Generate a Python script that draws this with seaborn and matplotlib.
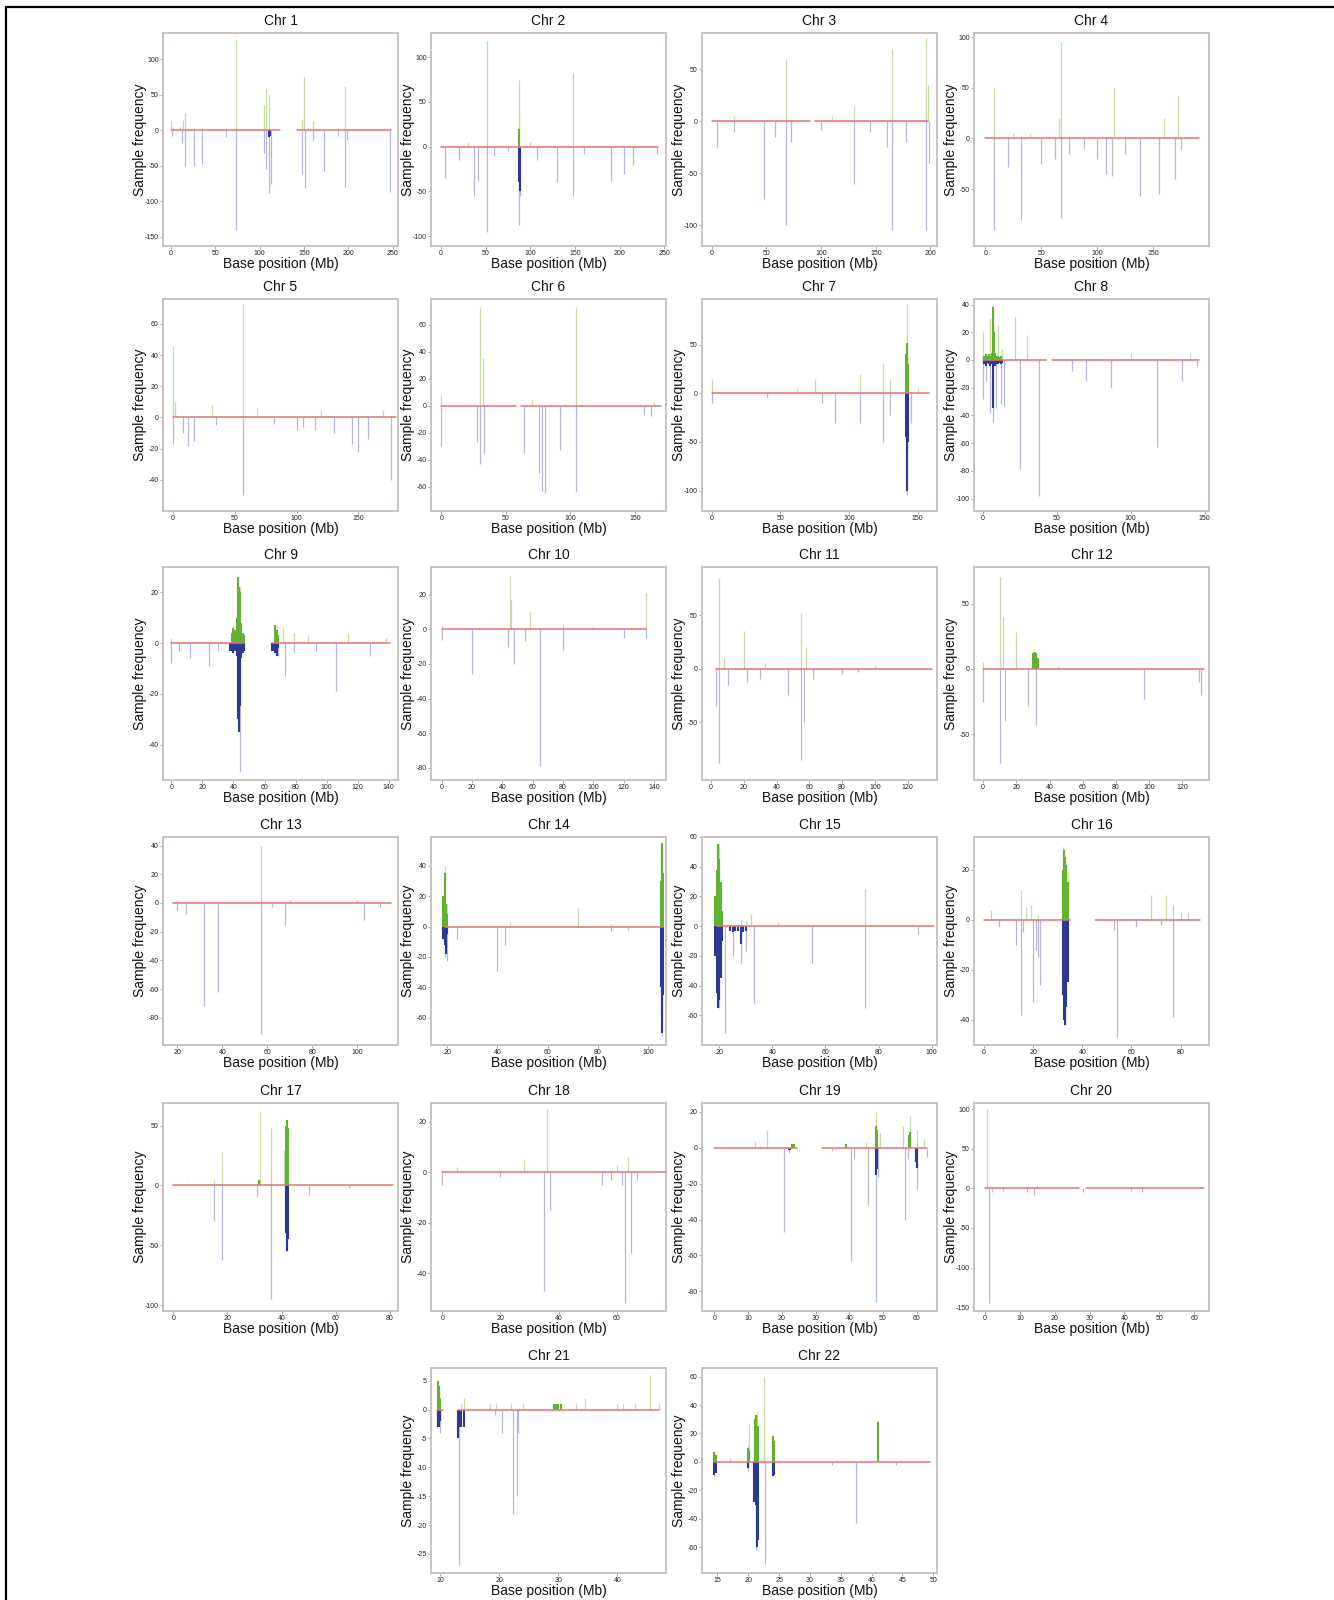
import matplotlib
matplotlib.use("Agg")
import matplotlib.pyplot as plt
import seaborn as sns
import pandas as pd
from matplotlib.lines import Line2D

# ================================================================
# Data
# ================================================================

CHROMS = [f"Chr {i}" for i in range(1, 23)]

XLIMS = [(-9, 256), (-11, 252), (-9, 206), (-10, 200), (-8, 182), (-8, 174),
         (-7, 164), (-6, 153), (-5.4, 146), (-7, 148), (-5.6, 138), (-5.5, 136),
         (13.6, 118), (13.6, 107), (13.5, 102), (-4, 91.5), (-3.8, 83), (-3.9, 77),
         (-3.7, 66), (-3.2, 64.3), (8.5, 48.2), (12.5, 50.6)]

YLIMS = [(-163, 137), (-111, 127), (-120, 85), (-106, 104), (-60, 76), (-78, 79),
         (-121, 97), (-109, 44), (-54, 30), (-87, 36), (-104, 95), (-85, 78),
         (-99, 46), (-78, 59), (-80, 60), (-50, 33), (-105, 69), (-55, 27.5),
         (-91, 25), (-155, 108), (-28.3, 7.2), (-78, 66)]

XTICKS = [[0, 50, 100, 150, 200, 250], [0, 50, 100, 150, 200, 250],
          [0, 50, 100, 150, 200], [0, 50, 100, 150], [0, 50, 100, 150],
          [0, 50, 100, 150], [0, 50, 100, 150], [0, 50, 100, 150],
          [0, 20, 40, 60, 80, 100, 120, 140], [0, 20, 40, 60, 80, 100, 120, 140],
          [0, 20, 40, 60, 80, 100, 120], [0, 20, 40, 60, 80, 100, 120],
          [20, 40, 60, 80, 100], [20, 40, 60, 80, 100], [20, 40, 60, 80, 100],
          [0, 20, 40, 60, 80], [0, 20, 40, 60, 80], [0, 20, 40, 60],
          [0, 10, 20, 30, 40, 50, 60], [0, 10, 20, 30, 40, 50, 60],
          [10, 20, 30, 40], [15, 20, 25, 30, 35, 40, 45, 50]]

YTICKS = [[-150, -100, -50, 0, 50, 100], [-100, -50, 0, 50, 100], [-100, -50, 0, 50],
          [-50, 0, 50, 100], [-40, -20, 0, 20, 40, 60], [-60, -40, -20, 0, 20, 40, 60],
          [-100, -50, 0, 50], [-100, -80, -60, -40, -20, 0, 20, 40], [-40, -20, 0, 20],
          [-80, -60, -40, -20, 0, 20], [-50, 0, 50], [-50, 0, 50],
          [-80, -60, -40, -20, 0, 20, 40], [-60, -40, -20, 0, 20, 40],
          [-60, -40, -20, 0, 20, 40, 60], [-40, -20, 0, 20], [-100, -50, 0, 50],
          [-40, -20, 0, 20], [-80, -60, -40, -20, 0, 20], [-150, -100, -50, 0, 50, 100],
          [-25, -20, -15, -10, -5, 0, 5], [-60, -40, -20, 0, 20, 40, 60]]

# baseline segments (Mb), gaps = centromere / no probes
SEGMENTS = [[(0, 123), (142, 248)], [(0, 243)], [(0, 90), (94, 198)], [(0, 191)],
            [(0, 180)], [(0, 58), (62, 170)], [(0, 158)], [(0, 43), (47, 146)],
            [(0, 47), (65, 141)], [(0, 135)], [(3, 135)], [(0, 133)],
            [(18, 115)], [(19, 106)], [(19, 101)], [(0, 35), (45, 88)],
            [(0, 81)], [(0, 77)], [(0, 24.5), (32, 63)], [(0, 27), (29, 63)],
            [(9.5, 10.5), (13, 47)], [(14.5, 49.5)]]

# sparse spikes: (position Mb, sample frequency); > 0 gain, < 0 loss
spikes_1 = [(0, 15), (2, 5), (10, 5), (14, 15), (16, 25), (73, 128), (105, 35), (107, 60),
            (110, 50), (148, 15), (150, 75), (155, 5), (160, 13), (196, 62),
            (1, -8), (12, -18), (16, -50), (26, -50), (35, -47), (62, -10), (73, -140),
            (105, -32), (107, -55), (111, -88), (113, -75), (148, -62), (151, -82),
            (160, -15), (173, -58), (188, -8), (196, -80), (198, -14), (247, -87)]
spikes_2 = [(52, 118), (88, 75), (87, 45), (148, 82), (30, 5), (100, 5),
            (5, -35), (20, -15), (37, -55), (42, -38), (52, -95), (88, -88), (89, -55),
            (108, -15), (130, -40), (148, -55), (190, -38), (205, -30), (215, -20),
            (242, -8), (60, -10), (75, -5), (160, -8)]
spikes_3 = [(68, 60), (130, 15), (165, 70), (196, 80), (198, 35), (20, 5), (110, 5),
            (5, -25), (20, -10), (48, -75), (58, -15), (68, -100), (72, -20), (130, -60),
            (160, -25), (165, -105), (178, -20), (196, -105), (199, -40), (100, -8), (145, -10)]
spikes_4 = [(8, 50), (40, 5), (68, 95), (66, 20), (115, 50), (160, 20), (172, 42), (25, 5),
            (8, -90), (20, -28), (32, -80), (50, -25), (62, -20), (68, -78), (75, -15),
            (100, -20), (108, -35), (113, -37), (138, -57), (155, -55), (170, -40),
            (175, -10), (88, -10), (125, -15)]
spikes_5 = [(0, 46), (2, 10), (32, 8), (57, 73), (68, 6), (120, 5), (170, 5),
            (0, -17), (8, -10), (12, -18), (17, -15), (57, -50), (100, -8), (105, -6),
            (115, -8), (130, -10), (145, -17), (150, -22), (158, -14), (176, -40),
            (35, -5), (82, -4)]
spikes_6 = [(0, 8), (30, 72), (32, 35), (104, 72), (70, 4), (165, 3),
            (0, -30), (28, -27), (30, -43), (33, -35), (64, -35), (76, -50), (78, -63),
            (80, -65), (92, -33), (104, -64), (157, -7), (162, -8)]
spikes_7 = [(0, 15), (62, 5), (75, 15), (108, 20), (125, 30), (142, 92), (130, 15), (150, 5),
            (0, -10), (90, -30), (108, -30), (125, -50), (130, -22), (142, -105),
            (145, -30), (40, -5), (80, -10)]
spikes_8 = [(0, 20), (5, 30), (7, 40), (10, 25), (13, 8), (22, 31), (30, 18), (100, 5),
            (140, 4), (0, -28), (2, -15), (5, -38), (7, -45), (9, -35), (12, -32),
            (14, -33), (25, -79), (38, -98), (60, -8), (70, -15), (87, -20), (118, -63),
            (135, -15), (145, -5)]
spikes_9 = [(0, 2), (40, 7), (43, 26), (44, 22), (68, 7), (72, 6), (79, 4), (88, 3),
            (114, 4), (138, 2), (0, -8), (5, -3), (12, -6), (24, -9), (30, -3),
            (44, -51), (69, -5), (73, -13), (79, -4), (93, -3), (106, -19), (128, -5)]
spikes_10 = [(0, 2), (45, 31), (46, 17), (58, 10), (80, 3), (135, 21), (100, 2),
             (0, -6), (20, -26), (44, -10), (48, -20), (55, -7), (65, -79), (80, -12),
             (120, -5), (135, -5)]
spikes_11 = [(3, 2), (5, 85), (8, 10), (20, 35), (33, 5), (55, 52), (58, 20), (100, 3),
             (3, -35), (5, -88), (10, -15), (22, -12), (30, -10), (47, -25), (55, -85),
             (57, -50), (62, -10), (80, -5), (90, -3)]
spikes_12 = [(0, 5), (10, 70), (12, 40), (20, 28), (30, 14), (32, 12), (45, 2),
             (0, -25), (10, -72), (13, -40), (27, -28), (32, -43), (97, -23), (131, -20),
             (130, -10)]
spikes_13 = [(57, 40), (20, 2), (70, 2), (100, 2),
             (20, -5), (24, -8), (32, -72), (38, -62), (57, -91), (62, -3), (68, -15),
             (103, -12), (110, -3)]
spikes_14 = [(19, 40), (20, 15), (72, 12), (45, 3), (85, 2), (105.5, 55),
             (19, -20), (20, -23), (24, -8), (40, -29), (43, -12), (85, -3), (92, -2),
             (105.5, -72)]
spikes_15 = [(20, 55), (19, 40), (28, 4), (30, 4), (32, 8), (75, 25), (42, 3),
             (19, -40), (20, -55), (22, -72), (25, -20), (28, -25), (30, -17), (33, -52),
             (55, -25), (75, -55), (95, -5)]
spikes_16 = [(3, 4), (15, 12), (17, 5), (19, 6), (22, 2), (32, 29), (34, 19), (68, 10),
             (74, 10), (77, 6), (80, 3), (83, 3),
             (6, -3), (13, -10), (15, -38), (16, -5), (20, -33), (21, -12), (22, -15),
             (23, -26), (33, -42), (53, -4), (54, -47), (62, -3), (77, -39), (72, -2)]
spikes_17 = [(15, 5), (18, 28), (32, 62), (36, 48), (42, 55), (41, 30), (5, 2),
             (15, -30), (18, -62), (31, -10), (36, -95), (42, -55), (50, -8), (65, -2)]
spikes_18 = [(36, 25), (28, 5), (5, 2), (60, 3), (64, 6),
             (0, -5), (35, -47), (37, -15), (55, -5), (58, -3), (62, -5), (63, -52),
             (65, -32), (67, -3), (20, -2)]
spikes_19 = [(12, 4), (15.5, 10), (23, 2), (39, 2), (48, 20), (49, 8), (56, 12), (58, 18),
             (60, 10), (62, 5), (45, 3),
             (20.5, -47), (22, -3), (35, -2), (40.5, -63), (41.5, -6), (45.5, -32),
             (48, -86), (48.5, -16), (56.5, -40), (57.5, -6), (60, -23), (63, -5)]
spikes_20 = [(0.5, 100), (2, 3), (15, 3),
             (1, -145), (2, -5), (5, -3), (12, -5), (14, -8), (28, -5), (42, -3), (45, -5)]
spikes_21 = [(9.7, 5), (10, 2), (13.5, 1), (14, 2), (18.5, 1), (19.5, 1), (22, 1), (24, 1),
             (33, 1), (34.5, 2), (40, 1), (41, 1), (43, 1), (45.5, 6), (47, 1),
             (9.5, -3), (10, -4), (13, -5), (13.2, -27), (19.3, -1), (20.5, -4),
             (22.3, -18), (23, -15), (23.2, -4)]
spikes_22 = [(14.5, 8), (17, 3), (20, 12), (20.2, 27), (21, 5), (21.4, 35), (22.6, 60),
             (22.5, 13), (24, 18), (41, 29),
             (14.5, -10), (20, -6), (21, -20), (21.3, -62), (22.7, -72), (24, -10),
             (37.5, -43), (33.5, -2), (44, -2)]

# dense (dark) spikes in recurrent regions: (position Mb, sample frequency)
dark_1 = [(110, -8), (111, -10), (112, -8)]
dark_2 = [(87.8, -40), (88.3, -50), (88, 20)]
dark_3 = []
dark_4 = []
dark_5 = []
dark_6 = []
dark_7 = [(141.5, 40), (142, 52), (142.5, 45), (143, 30),
          (141.5, -45), (142, -60), (142.5, -100), (143, -50)]
dark_8 = [(1, 3), (2, 4), (3, 3), (4, 4), (5, 3), (6, 5), (7, 38), (7.5, 20), (8, 5),
          (9, 3), (10, 3), (11, 2), (12, 3),
          (1, -3), (2, -4), (3, -2), (4, -3), (5, -4), (6, -3), (7, -35), (8, -4),
          (9, -3), (10, -3), (11, -2), (12, -3), (13, -2)]
dark_9 = [(39, 4), (40, 6), (41, 5), (42, 10), (43, 26), (43.5, 22), (44, 20), (45, 8),
          (46, 4), (47, 3),
          (38, -3), (39, -3), (40, -4), (41, -3), (42, -5), (43, -30), (43.5, -35),
          (44, -25), (45, -6), (46, -4), (47, -3),
          (65, -3), (66, -3), (67, -4), (68, -5), (69, -2), (67, 7), (68, 5), (69, 3)]
dark_10 = []
dark_11 = []
dark_12 = [(30, 12), (31, 13), (32, 12), (33, 8)]
dark_13 = []
dark_14 = [(18.5, 20), (19, 35), (19.5, 15), (20, 8),
           (18.5, -8), (19, -12), (19.5, -18), (20, -5),
           (105, 30), (105.3, 45), (105.6, 55), (105.9, 35),
           (105, -40), (105.3, -60), (105.6, -70), (105.9, -45)]
dark_15 = [(18.5, 20), (19, 38), (19.5, 55), (20, 45), (20.5, 30), (21, 10),
           (18.5, -20), (19, -45), (19.5, -55), (20, -50), (20.5, -35), (21, -10),
           (24, -3), (25, -4), (26, -3), (27, -3), (28, -12), (29, -4), (30, -3)]
dark_16 = [(32, 20), (32.5, 28), (33, 25), (33.5, 22), (34, 15),
           (32, -30), (32.5, -40), (33, -42), (33.5, -35), (34, -25)]
dark_17 = [(41.5, 50), (42, 55), (42.5, 48), (31.5, 5),
           (41.5, -40), (42, -55), (42.5, -45)]
dark_18 = []
dark_19 = [(23, 2), (23.5, 2), (39, 2), (48, 12), (48.3, 10), (58, 9), (57.6, 7),
           (22, -1), (22.5, -1), (48, -15), (48.3, -12), (60, -11), (59.8, -8)]
dark_20 = []
dark_21 = [(9.6, 5), (9.8, 4), (10, 2), (29.2, 1), (29.6, 1), (30, 1), (30.4, 1),
           (9.6, -3), (9.8, -3), (10, -2), (13, -5), (13.3, -3), (13.6, -3), (14, -3)]
dark_22 = [(14.5, 7), (14.7, 5), (20, 10), (20.2, 8), (21.1, 30), (21.3, 33), (21.5, 25),
           (24, 18), (24.2, 15), (41, 28),
           (14.5, -9), (14.7, -8), (20, -4), (21, -28), (21.2, -30), (21.4, -60),
           (21.6, -55), (24, -10), (24.2, -9)]

SPIKES = [spikes_1, spikes_2, spikes_3, spikes_4, spikes_5, spikes_6, spikes_7, spikes_8,
          spikes_9, spikes_10, spikes_11, spikes_12, spikes_13, spikes_14, spikes_15,
          spikes_16, spikes_17, spikes_18, spikes_19, spikes_20, spikes_21, spikes_22]
DARK = [dark_1, dark_2, dark_3, dark_4, dark_5, dark_6, dark_7, dark_8, dark_9, dark_10,
        dark_11, dark_12, dark_13, dark_14, dark_15, dark_16, dark_17, dark_18, dark_19,
        dark_20, dark_21, dark_22]

# ================================================================
# Style
# ================================================================

GAIN_LIGHT = "#c6dba6"
LOSS_LIGHT = "#b6b6dc"
GAIN_DARK = "#62b232"
LOSS_DARK = "#2c3893"
BASE_RED = "#e57373"
SPINE = "#c9bcbc"

sns.set_theme(style="white")
plt.rcParams["font.family"] = ["Liberation Sans", "DejaVu Sans"]
plt.rcParams["axes.unicode_minus"] = False

W, H = 1334, 1600
fig = plt.figure(figsize=(W / 100, H / 100), dpi=100)

COL_LEFT = [163, 431, 702, 974]
ROW_TOP = [33, 299, 567, 837, 1103, 1368]
ROW_H = [213, 212, 213, 208, 208, 205]
AX_W = 235


def panel_slot(i):
    if i < 20:
        return i // 4, i % 4
    return 5, i - 19


def draw_spikes(ax, rows, lw, gain_col, loss_col, z):
    df = pd.DataFrame(rows, columns=["pos", "freq"])
    if df.empty:
        return
    up = df[df["freq"] > 0]
    down = df[df["freq"] < 0]
    ax.vlines(up["pos"], 0, up["freq"], color=gain_col, lw=lw, zorder=z)
    ax.vlines(down["pos"], 0, down["freq"], color=loss_col, lw=lw, zorder=z)


for i, name in enumerate(CHROMS):
    r, c = panel_slot(i)
    left, top, ah = COL_LEFT[c], ROW_TOP[r], ROW_H[r]
    ax = fig.add_axes([left / W, 1 - (top + ah) / H, AX_W / W, ah / H])

    draw_spikes(ax, SPIKES[i], 0.9, GAIN_LIGHT, LOSS_LIGHT, 2)
    draw_spikes(ax, DARK[i], 1.5, GAIN_DARK, LOSS_DARK, 3)

    for s, e in SEGMENTS[i]:
        seg = pd.DataFrame({"x": [s, e], "y": [0, 0]})
        sns.lineplot(data=seg, x="x", y="y", ax=ax, color=BASE_RED, lw=1.1, zorder=4)

    ax.set_xlim(*XLIMS[i])
    ax.set_ylim(*YLIMS[i])
    ax.set_xticks(XTICKS[i])
    ax.set_yticks(YTICKS[i])
    ax.tick_params(axis="both", labelsize=5, length=2, width=0.6, color="#999999",
                   pad=1, labelcolor="#222222", bottom=True, left=True)
    for s in ax.spines.values():
        s.set_color(SPINE)
        s.set_linewidth(1.3)
    ax.set_title(name, fontsize=10, pad=6, color="#111111")
    ax.set_xlabel("Base position (Mb)", fontsize=10, color="#111111")
    ax.set_ylabel("Sample frequency", fontsize=10, color="#111111")
    ax.xaxis.set_label_coords(0.5, -11 / ah)
    ax.yaxis.set_label_coords(-16 / AX_W, 0.5)

# outer frame lines (top and left)
fig.add_artist(Line2D([6 / W, 1], [1 - 7 / H, 1 - 7 / H], transform=fig.transFigure,
                      color="black", lw=1.6))
fig.add_artist(Line2D([6 / W, 6 / W], [0, 1 - 7 / H], transform=fig.transFigure,
                      color="black", lw=1.6))

fig.savefig("out.png", dpi=100)
